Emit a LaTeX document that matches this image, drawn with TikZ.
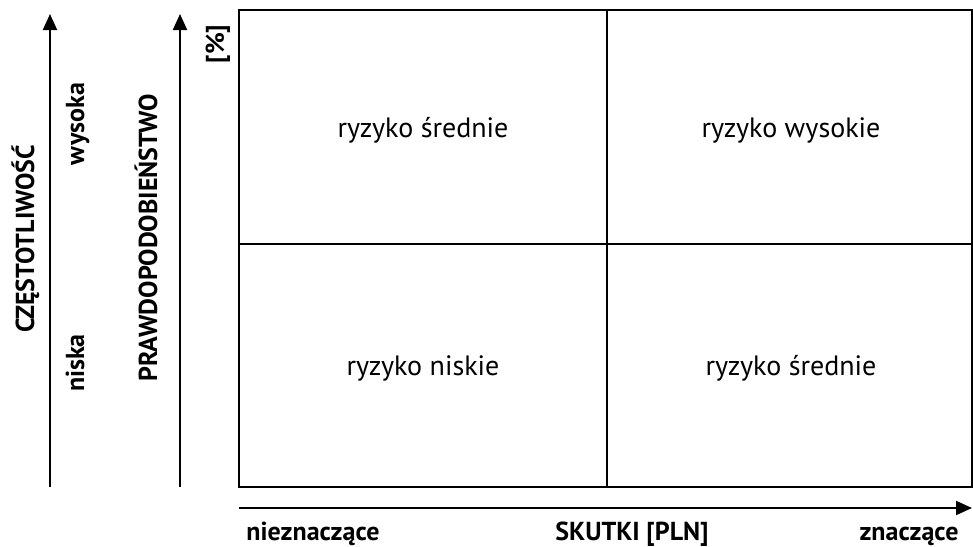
\documentclass[tikz,border=0pt]{standalone}
\usepackage{fontspec}
\setmainfont{PT Sans}
\usetikzlibrary{arrows.meta}
\begin{document}
\begin{tikzpicture}[x=1pt,y=-1pt,
  ln/.style={line width=2pt},
  axarrow/.style={line width=2pt,-{Triangle[length=16pt,width=14pt]}},
  cell/.style={font=\fontsize{28}{32}\selectfont},
  lbl/.style={font=\bfseries\fontsize{26}{30}\selectfont,anchor=base}]
\useasboundingbox (0,0) rectangle (973,546);
\draw[ln] (239,10) rectangle (972,487);
\coordinate (tm) at (607,10); \coordinate (bm) at (607,487);
\coordinate (lm) at (239,244); \coordinate (rm) at (972,244);
\draw[line width=1.5pt] (tm) -- (bm);
\draw[line width=1.5pt] (lm) -- (rm);
\node[cell] (c1) at (423,130) {ryzyko średnie};
\node[cell] (c2) at (791,130) {ryzyko wysokie};
\node[cell] (c3) at (423,368) {ryzyko niskie};
\node[cell] (c4) at (791,368) {ryzyko średnie};
\coordinate (a1s) at (50,487); \coordinate (a1e) at (50,14);
\coordinate (a2s) at (180,487); \coordinate (a2e) at (180,14);
\coordinate (a3s) at (239,508); \coordinate (a3e) at (972,508);
\draw[axarrow] (a1s) -- (a1e);
\draw[axarrow] (a2s) -- (a2e);
\draw[axarrow] (a3s) -- (a3e);
\node[lbl,rotate=90] (czest) at (34,239) {CZĘSTOTLIWOŚĆ};
\node[lbl,rotate=90] (wys) at (84,124) {wysoka};
\node[lbl,rotate=90] (nis) at (84,363) {niska};
\node[lbl,rotate=90] (praw) at (157,238) {PRAWDOPODOBIEŃSTWO};
\node[lbl,rotate=90] (proc) at (224,44) {[\%]};
\node[lbl] (niez) at (313,540) {nieznaczące};
\node[lbl] (skut) at (632,540) {SKUTKI [PLN]};
\node[lbl] (znac) at (909,540) {znaczące};
\end{tikzpicture}
\end{document}
